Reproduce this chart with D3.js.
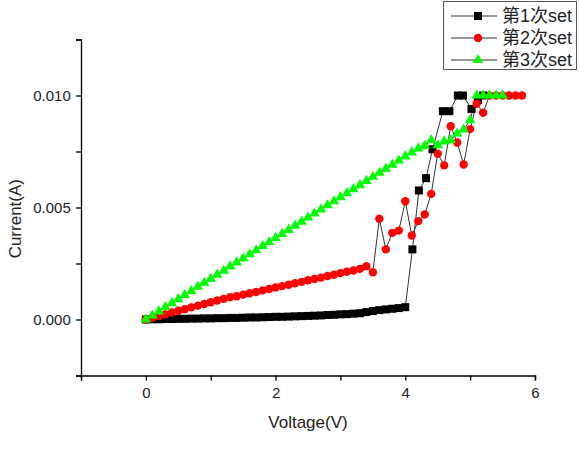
<!DOCTYPE html>
<html>
<head>
<meta charset="utf-8">
<script src="https://cdn.jsdelivr.net/npm/d3@7"></script>
<style>
  body { margin: 0; background: #fff; }
  svg { display: block; font-family: "Liberation Sans", Arial, "Noto Sans CJK SC", sans-serif; }
</style>
</head>
<body>
<svg class="chart"></svg>
<script>
// series 1 (black squares)
var volt1 = [0, 0.1, 0.2, 0.3, 0.4, 0.5, 0.6, 0.7, 0.8, 0.9, 1.0, 1.1, 1.2, 1.3, 1.4, 1.5, 1.6, 1.7, 1.8, 1.9,
    2.0, 2.1, 2.2, 2.3, 2.4, 2.5, 2.6, 2.7, 2.8, 2.9, 3.0, 3.1, 3.2, 3.3, 3.4, 3.5, 3.6, 3.7, 3.8, 3.9, 4.0,
    4.11, 4.21, 4.32, 4.42, 4.58, 4.68, 4.81, 4.89, 5.02, 5.12, 5.2];
var curr1 = [0, 0.00001, 0.00001, 0.00002, 0.00002, 0.00003, 0.00003, 0.00004, 0.00004, 0.00005, 0.00005,
    0.00006, 0.00006, 0.00007, 0.00007, 0.00008, 0.00009, 0.00009, 0.0001, 0.00011, 0.00012, 0.00012, 0.00013,
    0.00014, 0.00015, 0.00016, 0.00017, 0.00018, 0.0002, 0.00021, 0.00023, 0.00024, 0.00026, 0.00028, 0.00033,
    0.00038, 0.00042, 0.00045, 0.00048, 0.00051, 0.00055,
    0.00313, 0.00576, 0.00631, 0.0076, 0.0093, 0.0093, 0.0100, 0.0100, 0.0094, 0.0098, 0.0100];

// series 2 (red circles)
var volt2 = [0, 0.1, 0.2, 0.3, 0.4, 0.5, 0.6, 0.7, 0.8, 0.9, 1.0, 1.1, 1.2, 1.3, 1.4, 1.5, 1.6, 1.7, 1.8, 1.9,
    2.0, 2.1, 2.2, 2.3, 2.4, 2.5, 2.6, 2.7, 2.8, 2.9, 3.0, 3.1, 3.2, 3.3, 3.4, 3.5, 3.6, 3.7, 3.8, 3.9,
    4.0, 4.1, 4.2, 4.3, 4.4, 4.5, 4.6, 4.7, 4.8, 4.9, 5.0, 5.1, 5.2, 5.3, 5.4, 5.5, 5.6, 5.7, 5.8];
var curr2 = [0, 0.00008, 0.00015, 0.00023, 0.00031, 0.00039, 0.00046, 0.00054, 0.00062, 0.00069, 0.00077,
    0.00085, 0.00092, 0.001, 0.00104, 0.00111, 0.00117, 0.00123, 0.0013, 0.00136, 0.00143, 0.00149, 0.00155,
    0.00162, 0.00168, 0.00175, 0.00181, 0.00187, 0.00194, 0.002, 0.00207, 0.00213, 0.00219, 0.00226, 0.00238,
    0.00211, 0.0045, 0.00313, 0.00387, 0.00397, 0.00528, 0.00375, 0.00439, 0.00469, 0.00561, 0.0074, 0.00688,
    0.00863, 0.0079, 0.00692, 0.0085, 0.00963, 0.00923, 0.0100, 0.0100, 0.0100, 0.0100, 0.0100, 0.0100];

// series 3 (green triangles)
var volt3 = [0, 0.1, 0.2, 0.3, 0.4, 0.5, 0.6, 0.7, 0.8, 0.9, 1.0, 1.1, 1.2, 1.3, 1.4, 1.5, 1.6, 1.7, 1.8, 1.9,
    2.0, 2.1, 2.2, 2.3, 2.4, 2.5, 2.6, 2.7, 2.8, 2.9, 3.0, 3.1, 3.2, 3.3, 3.4, 3.5, 3.6, 3.7, 3.8, 3.9,
    4.0, 4.1, 4.2, 4.3, 4.4, 4.5, 4.6, 4.7, 4.8, 4.9, 5.0, 5.1, 5.2, 5.3, 5.4, 5.5];
var curr3 = [0, 0.00018, 0.00036, 0.00055, 0.00073, 0.00091, 0.00109, 0.00127, 0.00146, 0.00164, 0.00182,
    0.0020, 0.00218, 0.00237, 0.00255, 0.00273, 0.00291, 0.00309, 0.00328, 0.00346, 0.00364, 0.00382, 0.004,
    0.00419, 0.00437, 0.00455, 0.00473, 0.00491, 0.0051, 0.00528, 0.00546, 0.00564, 0.00582, 0.006, 0.00619,
    0.00637, 0.00655, 0.00673, 0.00691, 0.0071, 0.00728, 0.00746, 0.00764, 0.00775, 0.0080, 0.00778, 0.00795,
    0.0080, 0.0083, 0.00848, 0.0089, 0.0100, 0.0100, 0.0100, 0.0100, 0.0100];

var seriesNames = ["第1次set", "第2次set", "第3次set"];
var xMajorTicks = [0, 2, 4, 6];
var xMinorTicks = [-1, 1, 3, 5];
var yMajorTicks = [0, 0.005, 0.010];
var yMinorTicks = [-0.0025, 0.0025, 0.0075, 0.0125];

var width = 580;
var height = 452;
var margin = { top: 39.5, right: 45, bottom: 76.5, left: 81 };

var chart = d3.select(".chart")
    .attr("width", width)
    .attr("height", height);

var x = d3.scaleLinear()
    .domain([-1, 6])
    .range([margin.left, width - margin.right]);

var y = d3.scaleLinear()
    .domain([-0.0025, 0.0125])
    .range([height - margin.bottom, margin.top]);

var series = [
    { name: seriesNames[0], pts: d3.zip(volt1, curr1), color: "#000000", shape: d3.symbolSquare, size: 64 },
    { name: seriesNames[1], pts: d3.zip(volt2, curr2), color: "#ff0000", shape: d3.symbolCircle, size: 55 },
    { name: seriesNames[2], pts: d3.zip(volt3, curr3), color: "#00ff00", shape: d3.symbolTriangle, size: 48 }
];

var line = d3.line()
    .x(function(d) { return x(d[0]); })
    .y(function(d) { return y(d[1]); });

// axes
var xAxis = chart.append("g")
    .attr("transform", "translate(0," + y.range()[0] + ")")
    .call(d3.axisBottom(x).tickValues(xMajorTicks).tickSize(5).tickFormat(d3.format("d")));
xAxis.append("g")
    .call(d3.axisBottom(x).tickValues(xMinorTicks).tickSize(5).tickFormat(""))
    .select(".domain").remove();

var yAxis = chart.append("g")
    .attr("transform", "translate(" + x.range()[0] + ",0)")
    .call(d3.axisLeft(y).tickValues(yMajorTicks).tickSize(5).tickFormat(d3.format(".3f")));
yAxis.append("g")
    .call(d3.axisLeft(y).tickValues(yMinorTicks).tickSize(5).tickFormat(""))
    .select(".domain").remove();

chart.selectAll(".domain").attr("stroke", "#000").attr("stroke-width", 1.3);
chart.selectAll(".tick line").attr("stroke", "#000").attr("stroke-width", 1.3);
chart.selectAll(".tick text")
    .attr("fill", "#222")
    .style("font-size", "15px")
    .style("font-family", "'Liberation Sans', Arial, sans-serif");
xAxis.selectAll(".tick text").attr("dy", "0.95em");
yAxis.selectAll(".tick text").attr("dx", "-0.15em");

chart.append("text")
    .attr("x", x(2.5))
    .attr("y", 428)
    .attr("text-anchor", "middle")
    .attr("fill", "#222")
    .style("font-size", "17px")
    .text("Voltage(V)");

chart.append("text")
    .attr("transform", "translate(21," + y(0.0045) + ") rotate(-90)")
    .attr("text-anchor", "middle")
    .attr("fill", "#222")
    .style("font-size", "17px")
    .text("Current(A)");

// series
var g = chart.append("g");
series.forEach(function(s) {
    g.append("path")
        .datum(s.pts)
        .attr("fill", "none")
        .attr("stroke", "#333")
        .attr("stroke-width", 1)
        .attr("d", line);
});
series.forEach(function(s) {
    g.selectAll("path.pt" + s.name)
        .data(s.pts)
        .enter()
        .append("path")
        .attr("transform", function(d) { return "translate(" + x(d[0]) + "," + y(d[1]) + ")"; })
        .attr("d", d3.symbol().type(s.shape).size(s.size))
        .attr("fill", s.color);
});

// legend
var legend = chart.append("g");
legend.append("rect")
    .attr("x", 443.5)
    .attr("y", 1.5)
    .attr("width", 133)
    .attr("height", 68)
    .attr("fill", "#fff")
    .attr("stroke", "#555")
    .attr("stroke-width", 1);

series.forEach(function(s, i) {
    var ly = 16 + i * 22;
    legend.append("line")
        .attr("x1", 451).attr("x2", 497)
        .attr("y1", ly).attr("y2", ly)
        .attr("stroke", "#333")
        .attr("stroke-width", 1);
    legend.append("path")
        .attr("transform", "translate(478," + ly + ")")
        .attr("d", d3.symbol().type(s.shape).size(s.size))
        .attr("fill", s.color);
    legend.append("text")
        .attr("x", 502)
        .attr("y", ly + 6)
        .attr("fill", "#222")
        .style("font-size", "18px")
        .text(s.name);
});
</script>
</body>
</html>
